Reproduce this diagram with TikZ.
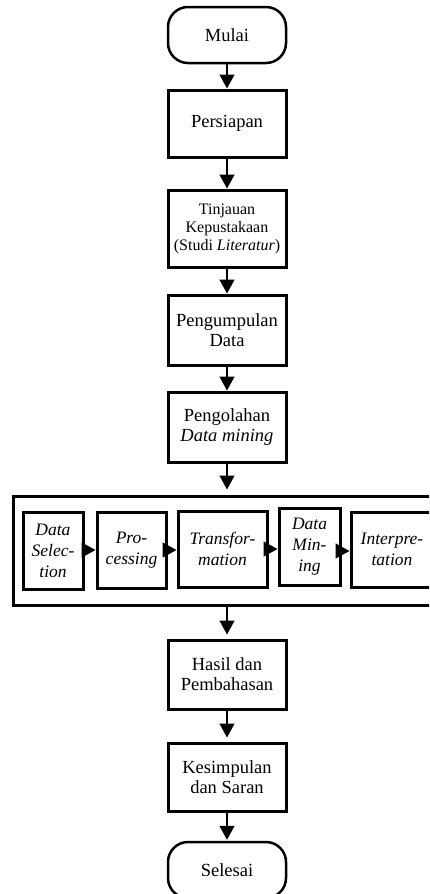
\documentclass[tikz,border=0pt]{standalone}
\usepackage{fontspec}
\setmainfont{Liberation Serif}
\usetikzlibrary{arrows.meta}
\begin{document}
\begin{tikzpicture}[x=1pt,y=-1pt,
  box/.style={draw, line width=3pt, inner sep=0pt, align=center,
    font=\fontsize{18.5pt}{20pt}\selectfont},
  term/.style={box, line width=2.5pt, rounded corners=20pt},
  ibox/.style={draw, line width=3pt, inner sep=0pt, align=center,
    font=\fontsize{17.5pt}{21pt}\selectfont\itshape},
  conn/.style={line width=1.5pt, -{Triangle[length=14pt,width=15pt]}}]
\useasboundingbox (0,0) rectangle (429,894);
\clip (0,0) rectangle (429,894);
% main column
\node[term, minimum width=118pt, minimum height=56pt] (mulai) at (227,35) {Mulai};
\node[box, minimum width=118pt, minimum height=67pt] (persiapan) at (227,123.5) {Persiapan};
\node[box, minimum width=118pt, minimum height=77pt,
  font=\fontsize{16pt}{18pt}\selectfont] (tinjauan) at (227,228.5)
  {Tinjauan\\Kepustakaan\\(Studi \textit{Literatur})};
\node[box, minimum width=118pt, minimum height=70pt] (pengumpulan) at (227,330) {Pengumpulan\\Data};
\node[box, minimum width=118pt, minimum height=70pt] (pengolahan) at (227,427) {Pengolahan\\\textit{Data mining}};
% outer frame and stages
\node[draw, line width=3pt, inner sep=0pt, minimum width=427pt, minimum height=109pt] (outer) at (227,550.5) {};
\node[ibox, minimum width=60pt, minimum height=77pt] (sel) at (53,550.5) {Data\\Selec-\\tion};
\node[ibox, minimum width=69pt, minimum height=76pt] (proc) at (131.5,550) {Pro-\\cessing};
\node[ibox, minimum width=89pt, minimum height=76pt] (trans) at (222.5,549) {Transfor-\\mation};
\node[ibox, minimum width=61pt, minimum height=77pt] (dm) at (309.5,546.5) {Data\\Min-\\ing};
\node[ibox, minimum width=82pt, minimum height=75pt] (interp) at (392,549.5) {Interpre-\\tation};
% lower column
\node[box, minimum width=118pt, minimum height=69pt] (hasil) at (227,674.5) {Hasil dan\\Pembahasan};
\node[box, minimum width=118pt, minimum height=68pt] (kesimpulan) at (227,777) {Kesimpulan\\dan Saran};
\node[term, minimum width=118pt, minimum height=56pt] (selesai) at (227,870) {Selesai};
% connectors
\draw[conn] (mulai.south) -- (persiapan.north);
\draw[conn] (persiapan.south) -- (tinjauan.north);
\draw[conn] (tinjauan.south) -- (pengumpulan.north);
\draw[conn] (pengumpulan.south) -- (pengolahan.north);
\draw[conn, shorten >=5pt] (pengolahan.south) -- (outer.north);
\draw[conn] (sel.east |- 0,550) -- (proc.west |- 0,550);
\draw[conn] (proc.east |- 0,550) -- (trans.west |- 0,550);
\draw[conn] (trans.east |- 0,549) -- (dm.west |- 0,549);
\draw[conn] (dm.east |- 0,551) -- (interp.west |- 0,551);
\draw[conn, shorten >=4pt] (outer.south) -- (hasil.north);
\draw[conn, shorten >=4pt] (hasil.south) -- (kesimpulan.north);
\draw[conn, shorten >=1pt] (kesimpulan.south) -- (selesai.north);
\end{tikzpicture}
\end{document}
